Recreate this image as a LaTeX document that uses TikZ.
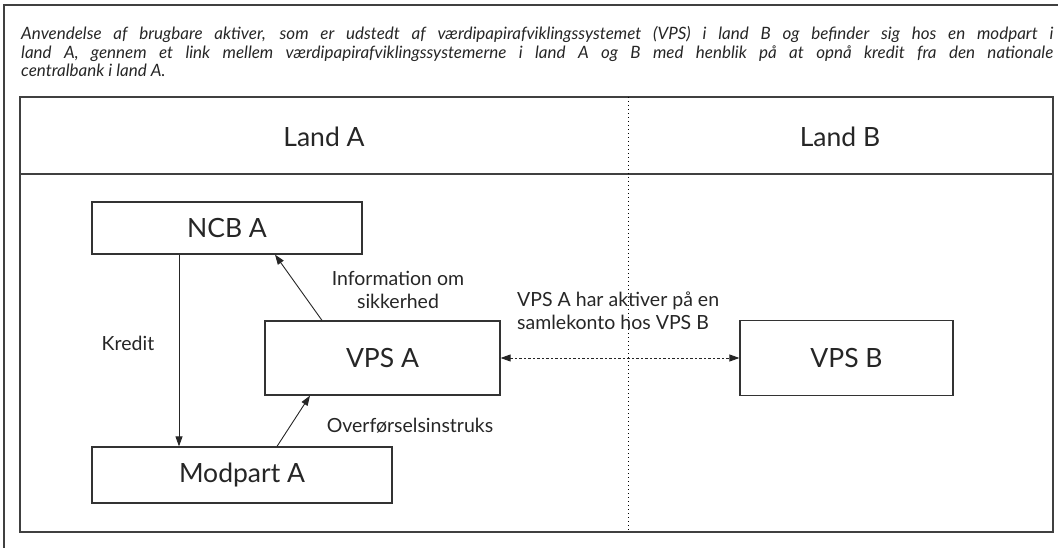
\documentclass[tikz,border=0pt]{standalone}
\usepackage{fontspec}
\setmainfont{Lato}
\usetikzlibrary{arrows.meta}
\begin{document}
\begin{tikzpicture}[x=1pt,y=-1pt,
  frame/.style={draw=black!75,line width=1.3pt},
  box/.style={draw=black!80,line width=1.2pt,fill=white,inner sep=0pt,font=\fontsize{26.5}{30}\selectfont,text=black!85},
  lbl/.style={font=\fontsize{19.5}{23}\selectfont,inner sep=0pt,align=center,text=black!85},
  arr/.style={-{Triangle[length=10pt,width=7pt]},line width=0.9pt,draw=black!85},
  darr/.style={{Triangle[length=10pt,width=7pt]}-{Triangle[length=10pt,width=7pt]},line width=0.9pt,draw=black!85,dash pattern=on 2.5pt off 2pt},
]
\useasboundingbox (0,0) rectangle (1058,548);
% outer frame and inner panel
\draw[frame] (4,548) -- (4,5) -- (1058,5);
\draw[frame] (20,97) rectangle (1053,532);
\draw[frame] (20,174) -- (1053,174);
\draw[line width=0.9pt,dash pattern=on 1.2pt off 2.8pt] (628,97) -- (628,532);
% title
\node[anchor=north west,inner sep=0pt,text width=1032pt,align=justify,text=black!85,
      font=\fontsize{17}{18.7}\selectfont\itshape] (title) at (21,26)
 {Anvendelse af brugbare aktiver, som er udstedt af værdipapirafviklingssystemet (VPS) i land B og befinder sig hos en modpart i\linebreak
  land A, gennem et link mellem værdipapirafviklingssystemerne i land A og B med henblik på at opnå kredit fra den nationale\linebreak
  centralbank i land A.};
% column headers
\node[font=\fontsize{26.5}{30}\selectfont,text=black!85] (landa) at (324,137) {Land A};
\node[font=\fontsize{26.5}{30}\selectfont,text=black!85] (landb) at (840,137) {Land B};
% boxes
\node[box,minimum width=270pt,minimum height=52pt] (ncb) at (227,228) {NCB A};
\node[box,minimum width=235pt,minimum height=74pt] (vpsa) at (382.5,358) {VPS A};
\node[box,minimum width=300pt,minimum height=56pt] (mod) at (242,475) {Modpart A};
\node[box,minimum width=213pt,minimum height=75pt] (vpsb) at (846.5,358) {VPS B};
% connectors
\coordinate (kx) at (179,0);
\draw[arr] (ncb.south -| kx) -- (mod.north -| kx);
\draw[arr] ([xshift=-60.5pt]vpsa.north) -- ([xshift=48pt]ncb.south);
\draw[arr] ([xshift=35pt]mod.north) -- ([xshift=-72.5pt]vpsa.south);
\draw[darr] (vpsa.east) -- (vpsa.east -| vpsb.west);
% labels
\node[lbl] (lk) at (128,343) {Kredit};
\node[lbl] (li) at (398,290) {Information om\\sikkerhed};
\node[lbl] (lo) at (410,426) {Overførselsinstruks};
\node[lbl,align=left,anchor=west] (lv) at (517,311) {VPS A har aktiver på en\\samlekonto hos VPS B};
\end{tikzpicture}
\end{document}
